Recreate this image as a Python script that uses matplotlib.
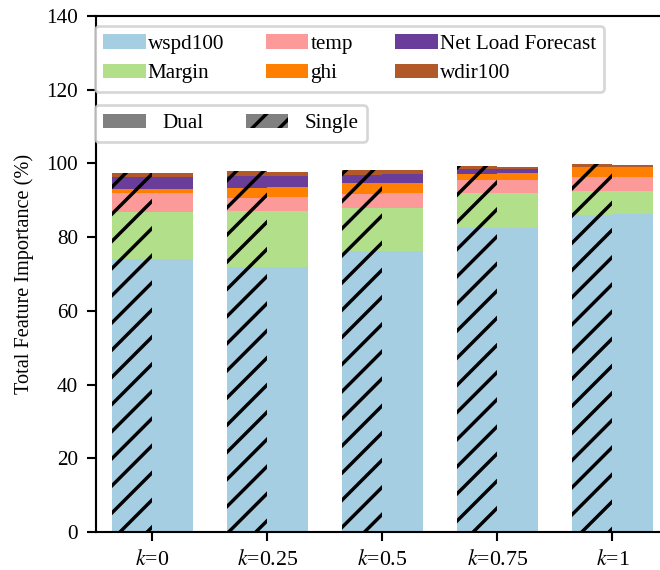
import matplotlib
matplotlib.use("Agg")
import matplotlib.pyplot as plt
import matplotlib.patches as mpatches
import numpy as np

dpi = 163
s = 190 / dpi  # keep pixel sizes constant while tuning hatch spacing via dpi

plt.rcParams['font.family'] = ['Liberation Serif', 'DejaVu Serif']
plt.rcParams['mathtext.fontset'] = 'stix'
plt.rcParams['hatch.linewidth'] = 1.3 * s

k_labels = ['$k$=0', '$k$=0.25', '$k$=0.5', '$k$=0.75', '$k$=1']
features = ['wspd100', 'Margin', 'temp', 'ghi', 'Net Load Forecast', 'wdir100']
colors = ['#a6cee3', '#b2df8a', '#fb9a99', '#ff7f00', '#6a3d9a', '#b15928']

single_wspd100 = [74.2, 71.8, 76.2, 82.4, 86.0]
single_margin = [12.6, 15.3, 11.6, 9.7, 6.5]
single_temp = [5.2, 3.4, 3.8, 3.3, 3.7]
single_ghi = [1.0, 2.7, 3.0, 1.7, 2.7]
single_nlf = [3.4, 3.4, 2.2, 1.3, 0.1]
single_wdir100 = [0.9, 1.3, 1.3, 0.8, 0.9]

dual_wspd100 = [74.2, 72.0, 76.2, 82.4, 86.2]
dual_margin = [12.6, 15.1, 11.6, 9.7, 6.3]
dual_temp = [5.2, 3.7, 4.1, 3.3, 3.7]
dual_ghi = [1.0, 2.7, 2.7, 1.9, 2.7]
dual_nlf = [3.4, 3.0, 2.4, 1.3, 0.0]
dual_wdir100 = [0.9, 1.2, 1.1, 0.3, 0.6]

single = [single_wspd100, single_margin, single_temp, single_ghi, single_nlf, single_wdir100]
dual = [dual_wspd100, dual_margin, dual_temp, dual_ghi, dual_nlf, dual_wdir100]

fig = plt.figure(figsize=(660 / dpi, 570 / dpi), dpi=dpi)
ax = fig.add_axes([96 / 660, 38 / 570, 574 / 660, 516 / 570])

x = np.arange(len(k_labels))
w = 0.35
bs = np.zeros(len(x))
bd = np.zeros(len(x))
for vals_s, vals_d, c in zip(single, dual, colors):
    ax.bar(x - w / 2, vals_s, w, bottom=bs, color=c, edgecolor='black', linewidth=0, hatch='//')
    ax.bar(x + w / 2, vals_d, w, bottom=bd, color=c, edgecolor='black', linewidth=0)
    bs += np.array(vals_s)
    bd += np.array(vals_d)

ax.set_xlim(-0.49, 4.5)
ax.set_ylim(0, 140)
ax.set_xticks(x)
ax.set_xticklabels(k_labels)
ax.set_yticks(np.arange(0, 141, 20))
ax.tick_params(axis='y', labelsize=8 * s, length=3.3 * s, width=0.8 * s, pad=3.5 * s)
ax.tick_params(axis='x', labelsize=8.3 * s, length=3.3 * s, width=0.8 * s, pad=3.5 * s)
ax.set_ylabel('Total Feature Importance (%)', fontsize=7.7 * s, labelpad=4.5 * s)
for sp in ax.spines.values():
    sp.set_linewidth(0.8 * s)

fs = 8 * s
handles1 = [mpatches.Patch(facecolor=c, label=f) for c, f in zip(colors, features)]
leg1 = ax.legend(handles=handles1, ncol=3, loc='upper left', bbox_to_anchor=(-0.002, 0.981),
                 fontsize=fs, handlelength=2.0, handletextpad=0.1, columnspacing=2.0,
                 labelspacing=0.45, borderaxespad=0.0)
leg1.get_frame().set_linewidth(1.0 * s)
ax.add_artist(leg1)
handles2 = [mpatches.Patch(facecolor='gray', label='Dual'),
            mpatches.Patch(facecolor='gray', edgecolor='black', linewidth=0, hatch='//', label='Single')]
leg2 = ax.legend(handles=handles2, ncol=2, loc='upper left', bbox_to_anchor=(-0.002, 0.827),
                 fontsize=fs, handlelength=2.0, handletextpad=0.8, columnspacing=2.0, borderaxespad=0.0)
leg2.get_frame().set_linewidth(1.0 * s)

fig.savefig('out.png', dpi=dpi)
